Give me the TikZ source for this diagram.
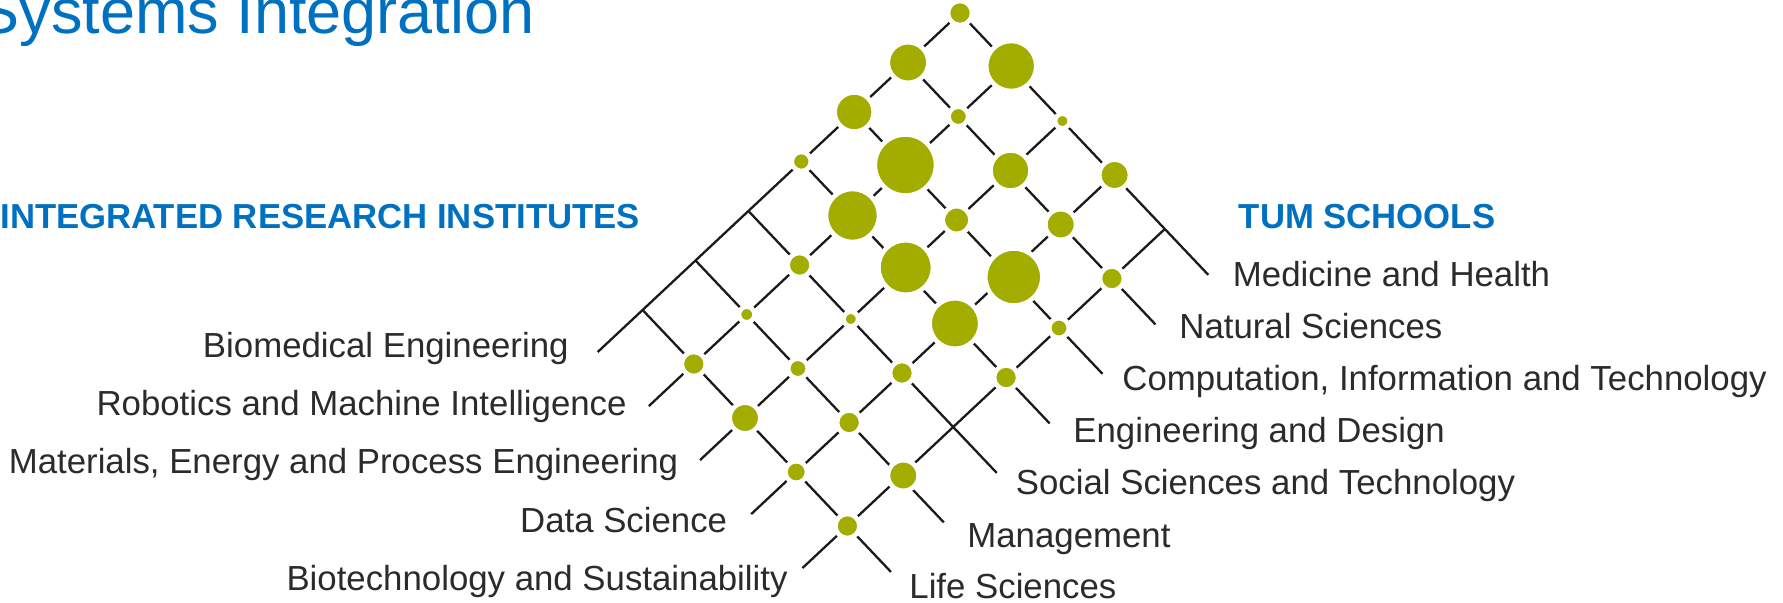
\documentclass[tikz,border=0pt]{standalone}
\usepackage{fontspec}
\setmainfont{Liberation Sans}
\definecolor{tumgreen}{HTML}{A2AD00}
\definecolor{tumblue}{HTML}{0070C0}
\definecolor{labelgray}{HTML}{2B2B2B}
\definecolor{linegray}{HTML}{1A1A1A}
\tikzset{
  gridline/.style={draw=linegray, line width=1.15pt},
  gdot/.style={circle, fill=tumgreen, draw=white, line width=2.3pt, inner sep=0pt, outer sep=0pt},
  lbl/.style={inner sep=0pt, text=labelgray, font=\fontsize{17.4}{20}\selectfont},
  hdr/.style={inner sep=0pt, text=tumblue, font=\fontsize{17.35}{20}\selectfont\bfseries},
}
\begin{document}
\begin{tikzpicture}[x=0.5pt, y=-0.5pt]
\useasboundingbox (0,0) rectangle (1783,603);
% lattice parameters (full-size pixels)
\def\Ax{960}\def\Ay{13}
\def\ux{-52.9}\def\uy{49.5}
\def\vx{51.2}\def\vy{54}
\foreach \a in {0,...,6}{
  \foreach \b in {0,...,4}{
    \coordinate (P\a\b) at ({\Ax+\a*\ux+\b*\vx},{\Ay+\a*\uy+\b*\vy});
  }
  \coordinate (S\a) at ({\Ax+\a*\ux+4.85*\vx},{\Ay+\a*\uy+4.85*\vy});
}
\foreach \b in {0,...,4}{
  \coordinate (I\b) at ({\Ax+6.85*\ux+\b*\vx},{\Ay+6.85*\uy+\b*\vy});
}
% school lines (upper left to lower right)
\foreach \a in {0,...,6}{ \draw[gridline] (P\a0) -- (S\a); }
% institute lines (upper right to lower left)
\foreach \b in {0,...,4}{ \draw[gridline] (P0\b) -- (I\b); }
% dots: a/b/diameter/shift
\foreach \a/\b/\d/\dx/\dy in {
  0/0/19.5/0/0, 1/0/36/1/0, 0/1/45.5/0/-1, 2/0/34.5/0/0, 1/1/15/0/0, 0/2/10/0/0,
  3/0/14.5/0/0, 2/1/56.5/0/-1, 1/2/35.5/1/0, 0/3/26/1/0,
  3/1/48.5/0/0, 2/2/23/0/0, 1/3/26/0/0,
  4/1/19.5/0/0, 3/2/50/2/-2, 2/3/52.5/6/3, 1/4/19.5/0/0,
  5/1/11/0/0, 4/2/10/0/0, 3/3/46/0/0, 2/4/15/0/0,
  6/1/19.5/0/0, 5/2/15/0/0, 4/3/19.5/0/0, 3/4/19.5/0/0,
  6/2/26/0/0, 5/3/19.5/0/0,
  6/3/17/0/0, 5/4/26/3/-1,
  6/4/19.5/0/0}{
  \pgfmathsetmacro\ms{(\d+4.6)*0.5}
  \node[gdot, minimum size=\ms pt] (d\a\b) at ([shift={(\dx,\dy)}]P\a\b) {};
}
% title
\node[inner sep=0pt, anchor=base east, text=tumblue, font=\fontsize{31.5}{36}\selectfont] (title) at (535,34) {Systems Integration};
% headers
\node[hdr, anchor=base west] (hIRI) at (0,228.5) {INTEGRATED RESEARCH INSTITUTES};
\node[hdr, anchor=base west] (hTUM) at (1238.5,228.5) {TUM SCHOOLS};
% institute labels
\node[lbl, anchor=base east] (i0) at (569,357.3) {Biomedical Engineering};
\node[lbl, anchor=base east] (i1) at (627,416) {Robotics and Machine Intelligence};
\node[lbl, anchor=base east] (i2) at (678.5,474) {Materials, Energy and Process Engineering};
\node[lbl, anchor=base east] (i3) at (727.5,532.3) {Data Science};
\node[lbl, anchor=base east] (i4) at (788,590.7) {Biotechnology and Sustainability};
% school labels
\node[lbl, anchor=base west] (s0) at (1232.5,286.7) {Medicine and Health};
\node[lbl, anchor=base west] (s1) at (1179,338.7) {Natural Sciences};
\node[lbl, anchor=base west] (s2) at (1122,390.7) {Computation, Information and Technology};
\node[lbl, anchor=base west] (s3) at (1073,442.7) {Engineering and Design};
\node[lbl, anchor=base west] (s4) at (1015.5,495) {Social Sciences and Technology};
\node[lbl, anchor=base west] (s5) at (967,547.3) {Management};
\node[lbl, anchor=base west] (s6) at (909,598.3) {Life Sciences};
\end{tikzpicture}
\end{document}
